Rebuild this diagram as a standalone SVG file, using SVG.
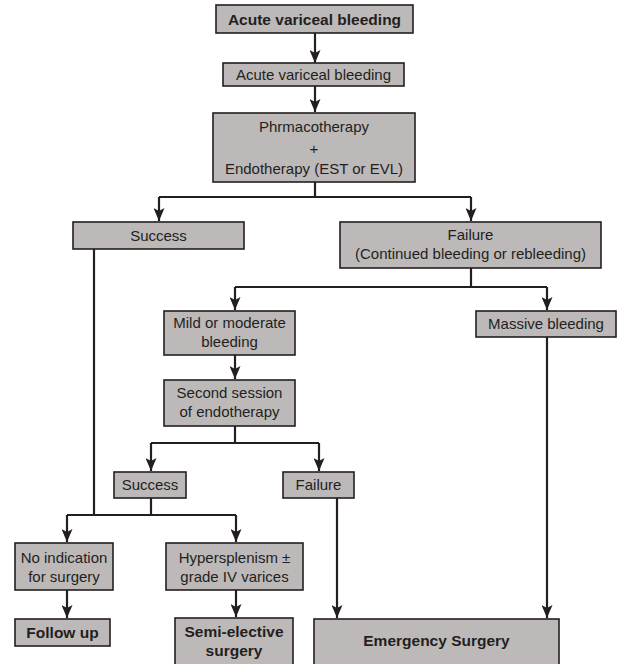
<svg xmlns="http://www.w3.org/2000/svg" width="617" height="664" viewBox="0 0 617 664">
<defs>
<marker id="ah" viewBox="0 0 13 11" markerWidth="13" markerHeight="11" refX="13" refY="5.5" orient="auto" markerUnits="userSpaceOnUse">
<path d="M0,0 L13,5.5 L0,11 L3,5.5 z" fill="#231f20"/>
</marker>
<style>
.b{fill:#bdb9b9;stroke:#231f20;stroke-width:1.6}
.t{font-family:"Liberation Sans",Arial,sans-serif;font-size:15px;fill:#231f20;text-anchor:middle}
.bd{font-weight:bold;font-size:15.5px}
.c{fill:none;stroke:#231f20;stroke-width:2.2}
</style>
</defs>
<rect width="617" height="664" fill="#ffffff"/>
<g id="connectors">
<path class="c" d="M315,33 V63" marker-end="url(#ah)"/>
<path class="c" d="M315,86 V112" marker-end="url(#ah)"/>
<path class="c" d="M315,182 V197"/>
<path class="c" d="M159,197 H471"/>
<path class="c" d="M159,197 V221" marker-end="url(#ah)"/>
<path class="c" d="M471,197 V221" marker-end="url(#ah)"/>
<path class="c" d="M94,249 V515"/>
<path class="c" d="M471,268 V287"/>
<path class="c" d="M235,287 H547"/>
<path class="c" d="M235,287 V310" marker-end="url(#ah)"/>
<path class="c" d="M547,287 V310" marker-end="url(#ah)"/>
<path class="c" d="M235,355 V379" marker-end="url(#ah)"/>
<path class="c" d="M235,426 V443"/>
<path class="c" d="M151,443 H319"/>
<path class="c" d="M151,443 V471" marker-end="url(#ah)"/>
<path class="c" d="M319,443 V471" marker-end="url(#ah)"/>
<path class="c" d="M151,498 V515"/>
<path class="c" d="M67,515 H236"/>
<path class="c" d="M67,515 V542" marker-end="url(#ah)"/>
<path class="c" d="M236,515 V542" marker-end="url(#ah)"/>
<path class="c" d="M67,590 V618" marker-end="url(#ah)"/>
<path class="c" d="M236,590 V617" marker-end="url(#ah)"/>
<path class="c" d="M337,498 V618" marker-end="url(#ah)"/>
<path class="c" d="M547,337 V618" marker-end="url(#ah)"/>
</g>
<g id="n1"><rect class="b" x="216" y="5" width="197" height="28"/><text class="t bd" x="314.5" y="24.5">Acute variceal bleeding</text></g>
<g id="n2"><rect class="b" x="223" y="63" width="181" height="23"/><text class="t" x="313.5" y="79.5">Acute variceal bleeding</text></g>
<g id="n3"><rect class="b" x="213" y="113" width="202" height="69"/><text class="t" x="314" y="132">Phrmacotherapy</text><text class="t" x="314" y="154">+</text><text class="t" x="314" y="174">Endotherapy (EST or EVL)</text></g>
<g id="n4"><rect class="b" x="73" y="222" width="171" height="27"/><text class="t" x="158.5" y="241">Success</text></g>
<g id="n5"><rect class="b" x="340" y="222" width="261" height="46"/><text class="t" x="470.5" y="240">Failure</text><text class="t" x="470.5" y="259">(Continued bleeding or rebleeding)</text></g>
<g id="n6"><rect class="b" x="164" y="311" width="131" height="44"/><text class="t" x="229.5" y="328">Mild or moderate</text><text class="t" x="229.5" y="347">bleeding</text></g>
<g id="n7"><rect class="b" x="476" y="311" width="140" height="26"/><text class="t" x="546" y="329">Massive bleeding</text></g>
<g id="n8"><rect class="b" x="164" y="380" width="131" height="46"/><text class="t" x="229.5" y="398">Second session</text><text class="t" x="229.5" y="417">of endotherapy</text></g>
<g id="n9"><rect class="b" x="114" y="472" width="72" height="26"/><text class="t" x="150" y="490">Success</text></g>
<g id="n10"><rect class="b" x="283" y="472" width="71" height="26"/><text class="t" x="318.5" y="490">Failure</text></g>
<g id="n11"><rect class="b" x="15" y="543" width="98" height="47"/><text class="t" x="64" y="563">No indication</text><text class="t" x="64" y="582">for surgery</text></g>
<g id="n12"><rect class="b" x="166" y="543" width="137" height="47"/><text class="t" x="234.5" y="563">Hypersplenism ±</text><text class="t" x="234.5" y="582">grade IV varices</text></g>
<g id="n13"><rect class="b" x="15" y="619" width="95" height="27"/><text class="t bd" x="62.5" y="638">Follow up</text></g>
<g id="n14"><rect class="b" x="175" y="618" width="118" height="52"/><text class="t bd" x="234" y="637">Semi-elective</text><text class="t bd" x="234" y="656">surgery</text></g>
<g id="n15"><rect class="b" x="314" y="619" width="245" height="52"/><text class="t bd" x="436.5" y="646">Emergency Surgery</text></g>
</svg>
